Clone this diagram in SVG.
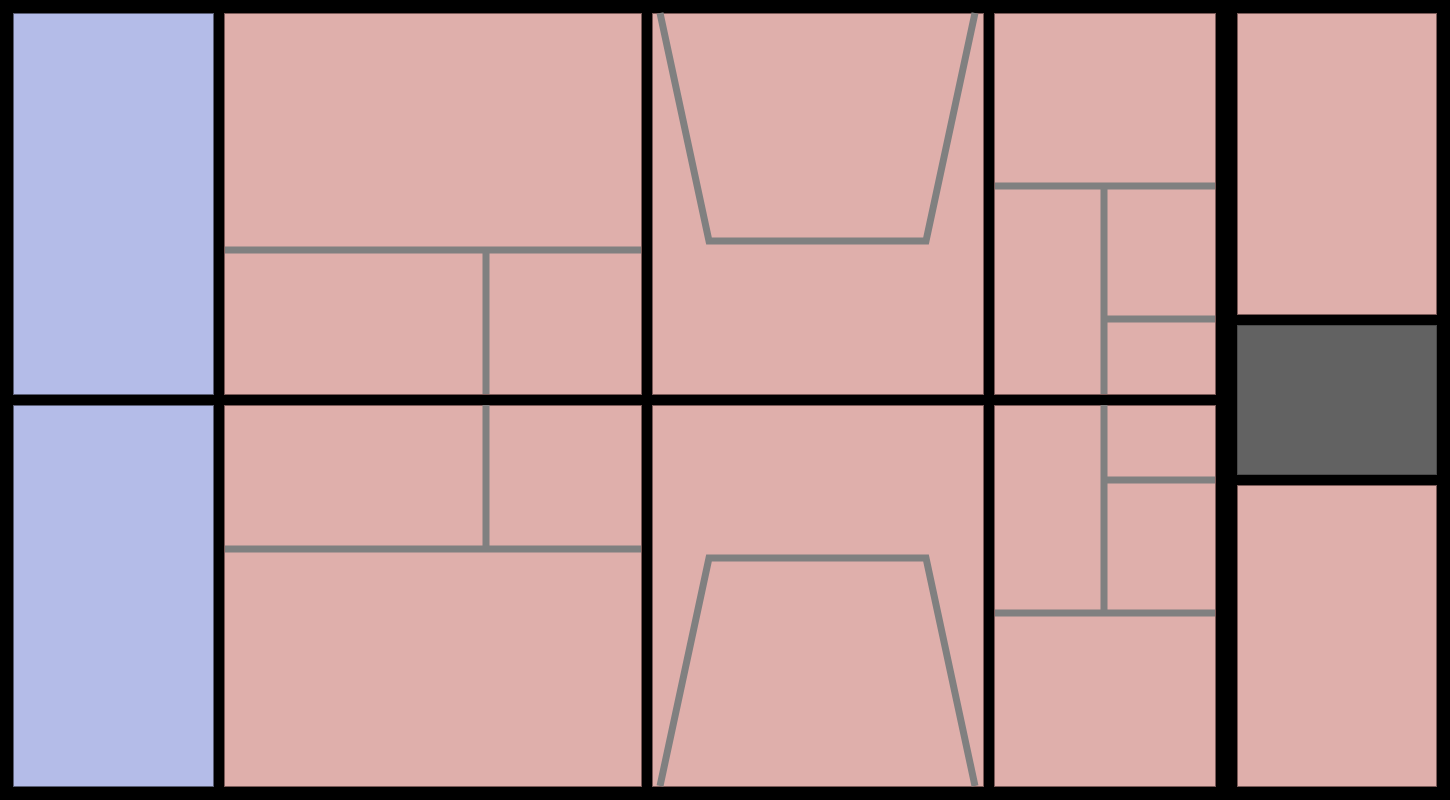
<svg xmlns="http://www.w3.org/2000/svg" width="1450" height="800" viewBox="0 0 1450 800">
<style>
.blue{fill:#b4bce8;stroke:#5a5e74;stroke-width:1}
.pink{fill:#dfafab;stroke:#7a5a58;stroke-width:1}
.dark{fill:#626262;stroke:#4a4a4a;stroke-width:1}
.wall{fill:none;stroke:#808080;stroke-width:7;stroke-linejoin:miter}
</style>
<rect x="0" y="0" width="1450" height="800" fill="#000"/>
<g id="col1-top"><rect class="blue" x="13.5" y="13.5" width="200" height="381"/></g>
<g id="col1-bottom"><rect class="blue" x="13.5" y="405.5" width="200" height="381"/></g>
<g id="col2-top"><rect class="pink" x="224.5" y="13.5" width="417" height="381"/></g>
<g id="col2-bottom"><rect class="pink" x="224.5" y="405.5" width="417" height="381"/></g>
<g id="col3-top"><rect class="pink" x="652.5" y="13.5" width="331" height="381"/></g>
<g id="col3-bottom"><rect class="pink" x="652.5" y="405.5" width="331" height="381"/></g>
<g id="col4-top"><rect class="pink" x="994.5" y="13.5" width="221" height="381"/></g>
<g id="col4-bottom"><rect class="pink" x="994.5" y="405.5" width="221" height="381"/></g>
<g id="col5-top"><rect class="pink" x="1237.5" y="13.5" width="199" height="301"/></g>
<g id="col5-middle"><rect class="dark" x="1237.5" y="325.5" width="199" height="149"/></g>
<g id="col5-bottom"><rect class="pink" x="1237.5" y="485.5" width="199" height="301"/></g>
<g id="connectors">
<path class="wall" d="M225 250H641M486 250V394"/>
<path class="wall" d="M486 405V549M225 549H641"/>
<path class="wall" d="M660 13L709 241H926L975 13"/>
<path class="wall" d="M660 786L709 558H926L975 786"/>
<path class="wall" d="M995 186H1215M1104 186V394M1104 319H1215"/>
<path class="wall" d="M1104 405V613M1104 480H1215M995 613H1215"/>
</g>
</svg>
